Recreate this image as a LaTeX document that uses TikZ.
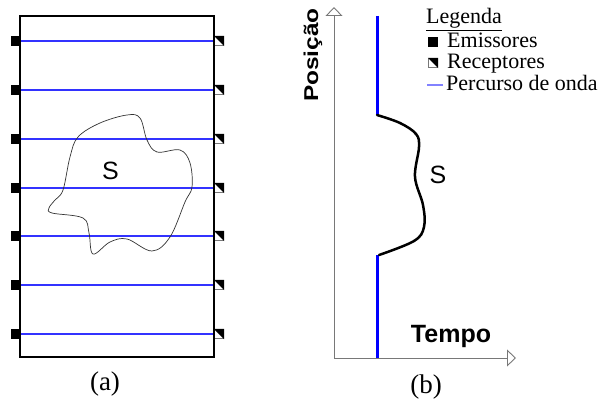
\documentclass[tikz,border=0pt]{standalone}
\usepackage{fontspec}
\setmainfont{Liberation Serif}
\setsansfont{Liberation Sans}
\usetikzlibrary{arrows.meta}
\definecolor{wave}{RGB}{50,50,255}
\definecolor{wavelt}{RGB}{130,130,255}
\definecolor{axisgray}{RGB}{120,120,120}
\tikzset{
  emit/.style={fill=black,draw=none,minimum width=9.5pt,minimum height=9.5pt,inner sep=0pt},
  recv/.style={fill=white,draw=axisgray,line width=0.6pt,minimum width=9.5pt,minimum height=9.5pt,inner sep=0pt},
  recvfill/.style={fill=black},
  ray/.style={draw=wave,line width=1.1pt},
  axisline/.style={draw=axisgray,line width=0.9pt,-{Triangle[open,length=9pt,width=17pt,fill=white]}},
  sans/.style={font=\sffamily\fontsize{25}{28}\selectfont},
  serif/.style={font=\rmfamily\fontsize{22}{25}\selectfont,text height=15pt,text depth=5pt},
  caption/.style={font=\rmfamily\fontsize{27}{30}\selectfont},
}
\begin{document}
\begin{tikzpicture}[x=1pt,y=-1pt]
\useasboundingbox (0,0) rectangle (600,404);
% panel (a)
\foreach \i/\y in {1/41,2/90,3/139,4/188,5/236,6/285,7/334}{
  \node[emit] (e\i) at (15.5,\y) {};
  \node[recv] (r\i) at (219,\y) {};
  \fill[recvfill] (r\i.north west) -- (r\i.north east) -- (r\i.south east) -- cycle;
  \draw[ray] (e\i.east) -- (r\i.west);
}
\draw[line width=2.6pt] (20,16) rectangle (214,357);
\draw[line width=0.7pt,draw=black!80] plot[smooth cycle,tension=0.6] coordinates {
  (127,115) (140,118) (147,140) (157,152) (180,150) (190,163) (192,187) (185,202)
  (170,237) (152,251) (127,239) (110,242) (93,254) (89,233) (83,218) (52,213)
  (49,208) (55,200) (63,190) (70,157) (78,137) (100,123)};
\node[sans] (sa) at (110.5,171) {S};
\node[caption] (la) at (105,384) {(a)};
% panel (b)
\coordinate (o) at (334,358);
\coordinate (ytop) at (334,7);
\coordinate (xend) at (516,358);
\draw[axisline] (o) -- (ytop);
\draw[axisline] (o) -- (xend);
\node[font=\sffamily\bfseries\fontsize{20}{24}\selectfont,rotate=90] (pos) at (313,55) {\scalebox{1.22}[1]{Posição}};
\node[font=\sffamily\bfseries\fontsize{25}{28}\selectfont] (tempo) at (451,336) {Tempo};
\coordinate (b1) at (377,16);
\coordinate (b2) at (377,115);
\coordinate (b3) at (377,255);
\coordinate (b4) at (377,358);
\draw[blue,line width=3pt] (b1) -- (b2);
\draw[blue,line width=3pt] (b3) -- (b4);
\draw[line width=2.5pt,line cap=round] plot[smooth,tension=0.6] coordinates {
  (377,115) (400,123) (416,134) (419,147) (415,177) (423,205) (424,227) (414,241) (379,255)};
\node[sans] (sb) at (438,175) {S};
\node[caption] (lb) at (426,387) {(b)};
% legend
\node[serif,anchor=west,inner sep=0pt] (leg) at (426,19) {\underline{Legenda}};
\node[emit] (le) at (433,42) {};
\node[serif,anchor=west,inner sep=0pt] (lte) at (447,43) {Emissores};
\node[recv] (lr) at (433,63) {};
\fill[recvfill] (lr.north west) -- (lr.north east) -- (lr.south east) -- cycle;
\node[serif,anchor=west,inner sep=0pt] (ltr) at (447,64) {Receptores};
\coordinate (lw1) at (427,85);
\coordinate (lw2) at (443,85);
\draw[wavelt,line width=1.1pt] (lw1) -- (lw2);
\node[serif,anchor=west,inner sep=0pt] (ltw) at (446,86) {Percurso de onda};
\end{tikzpicture}
\end{document}
